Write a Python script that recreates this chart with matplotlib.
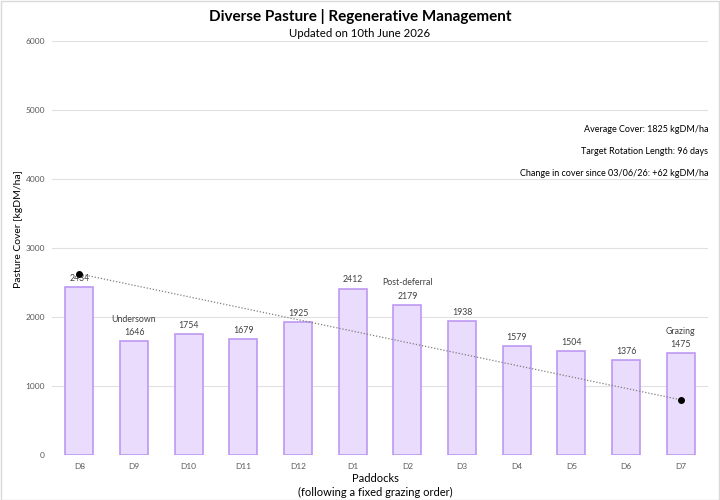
import matplotlib
matplotlib.use("Agg")
import matplotlib.pyplot as plt
from matplotlib.patches import Rectangle

plt.rcParams['font.family'] = ['Lato', 'DejaVu Sans']

paddocks = ["D8", "D9", "D10", "D11", "D12", "D1", "D2", "D3", "D4", "D5", "D6", "D7"]
cover = [2434, 1646, 1754, 1679, 1925, 2412, 2179, 1938, 1579, 1504, 1376, 1475]
notes = {"D9": "Undersown", "D2": "Post-deferral", "D7": "Grazing"}
target_x = ["D8", "D7"]
target_y = [2625, 800]
info = ["Average Cover: 1825 kgDM/ha",
        "Target Rotation Length: 96 days",
        "Change in cover since 03/06/26: +62 kgDM/ha"]

fig = plt.figure(figsize=(7.2, 5), dpi=100)
fig.patches.append(Rectangle((0.001, 0.001), 0.998, 0.998, transform=fig.transFigure,
                             fill=False, edgecolor="#D9D9D9", linewidth=1))
ax = fig.add_axes([52/720, 45/500, 656/720, 414/500])

x = list(range(len(paddocks)))
ax.bar(x, cover, width=0.51, color="#EADCFC", edgecolor="#BE98F2", linewidth=1.2, zorder=2)
for i, (p, v) in enumerate(zip(paddocks, cover)):
    label = f"{notes[p]}\n{v}" if p in notes else f"{v}"
    ax.text(i, v + 60, label, ha="center", va="bottom", fontsize=6.3, color="#404040",
            linespacing=1.6, zorder=4)

tx = [paddocks.index(p) for p in target_x]
ax.plot(tx, target_y, linestyle=(0, (1, 1.5)), color="#7F7F7F", linewidth=0.9, zorder=3)
ax.plot(tx, target_y, linestyle="none", marker="o", markersize=4, color="black", zorder=5)

ax.set_xlim(-0.5, len(paddocks) - 0.5)
ax.set_ylim(0, 6000)
ax.set_yticks([0, 1000, 2000, 3000, 4000, 5000, 6000])
ax.set_xticks(x)
ax.set_xticklabels(paddocks)
ax.tick_params(axis="both", length=0, labelsize=6, labelcolor="#595959")
ax.tick_params(axis="x", pad=6)
ax.tick_params(axis="y", pad=5)
ax.grid(axis="y", color="#E0E0E0", linewidth=0.8, zorder=0)
ax.set_axisbelow(True)
for s in ax.spines.values():
    s.set_visible(False)

fig.text(19/720, 1 - 229/500, "Pasture Cover [kgDM/ha]", rotation=90, ha="center", va="center",
         fontsize=7.5, color="black")
fig.text(375/720, 1 - 479/500, "Paddocks", ha="center", va="center", fontsize=8, color="black")
fig.text(375/720, 1 - 492/500, "(following a fixed grazing order)", ha="center", va="center",
         fontsize=8, color="black")

fig.text(0.5, 1 - 17/500, "Diverse Pasture | Regenerative Management", ha="center", va="center",
         fontsize=11, fontweight="bold")
fig.text(0.5, 1 - 33/500, "Updated on 10th June 2026", ha="center", va="center", fontsize=8.2)

for k, t in enumerate(info):
    fig.text(708/720, 1 - (130 + 21.5*k)/500, t, ha="right", va="center", fontsize=6.5, color="black")

fig.savefig("out.png", dpi=100)
